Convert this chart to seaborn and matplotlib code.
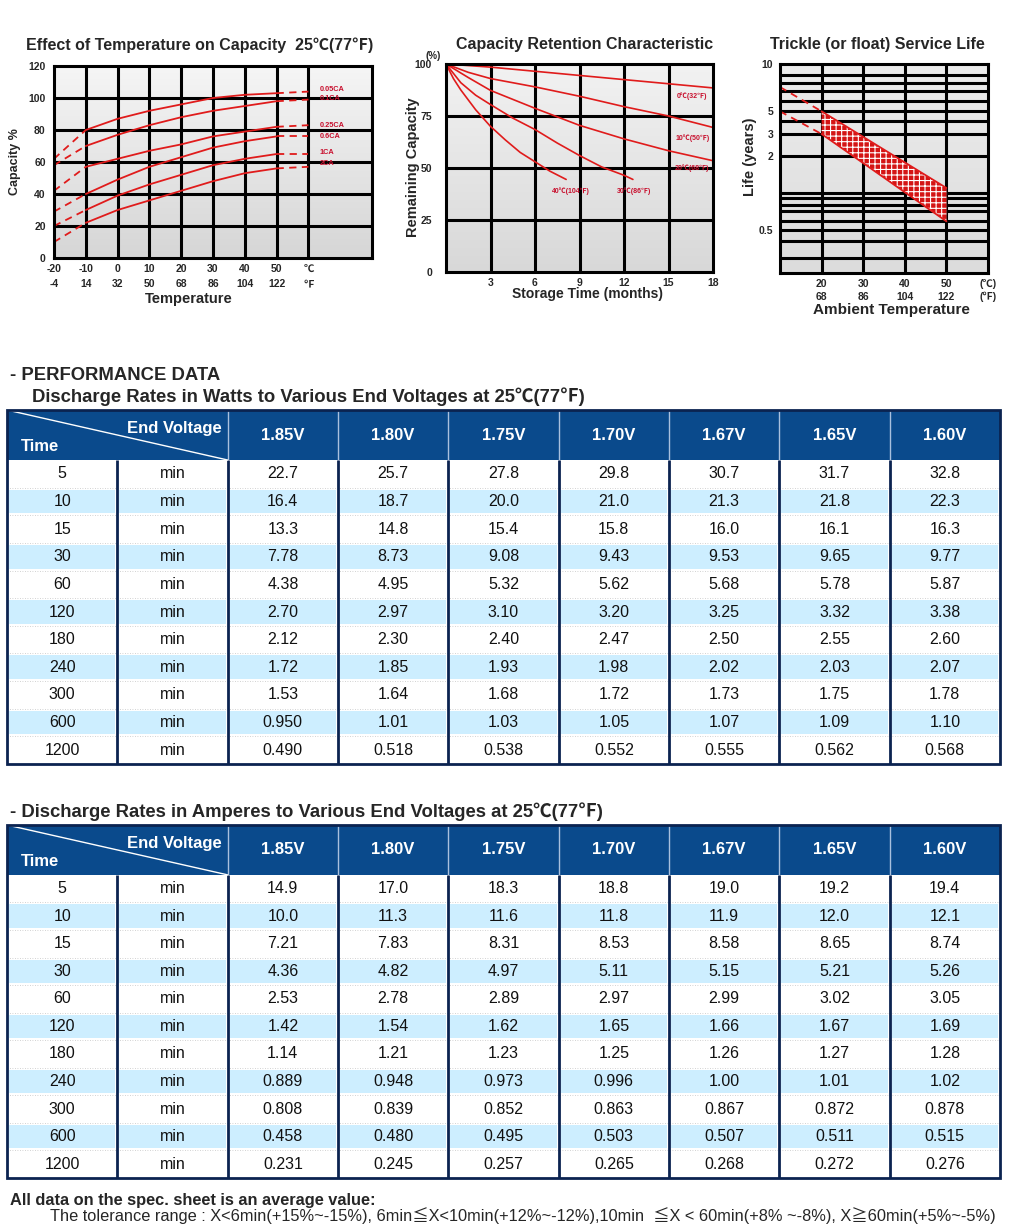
import numpy as np
import matplotlib
matplotlib.use("Agg")
import matplotlib.pyplot as plt
from matplotlib.colors import ListedColormap, LinearSegmentedColormap
from matplotlib.patches import Rectangle
from matplotlib.ticker import NullLocator
import seaborn as sns

sns.set_style("white")
FONTS = ['Liberation Sans', 'Noto Sans CJK SC', 'DejaVu Sans']
plt.rcParams['font.family'] = FONTS
plt.rcParams['hatch.linewidth'] = 0.8

RED = '#e01b1b'
LBL_RED = '#c8102e'
NAVY = '#0b2350'
HEAD_BLUE = '#0a4a8c'
STRIPE = '#cdeeff'

# ---- effect of temperature on capacity (%), solid part -10..50 C
temp_c = [-10, 0, 10, 20, 30, 40, 50]
cap_005 = [80, 87, 92, 96, 100, 102, 103]
cap_01 = [70, 77, 83, 88, 92, 95, 98]
cap_025 = [57, 62, 67, 71, 76, 79, 82]
cap_06 = [40, 49, 57, 63, 69, 73, 76]
cap_1 = [30, 39, 46, 52, 58, 62, 65]
cap_2 = [22, 30, 36, 42, 48, 53, 56]
cap_at_m20 = [62, 58, 42, 29, 20, 10]     # dashed ends at -20 C
cap_at_60 = [104, 99, 83, 76, 65, 57]     # dashed ends at 60 C
rate_labels = ['0.05CA', '0.1CA', '0.25CA', '0.6CA', '1CA', '2CA']
rate_label_y = [105.5, 99.5, 83, 76, 66, 59]
temp_ticks = [-20, -10, 0, 10, 20, 30, 40, 50, 60]
temp_f = ['-4', '14', '32', '50', '68', '86', '104', '122', '℉']
temp_cl = ['-20', '-10', '0', '10', '20', '30', '40', '50', '℃']

# ---- capacity retention (%) vs storage months
ret_months = {
    '0℃(32℉)': [0, 3, 6, 9, 12, 15, 18],
    '10℃(50℉)': [0, 1.5, 3, 6, 9, 12, 15, 18],
    '20℃(68℉)': [0, 1.5, 3, 6, 9, 12, 15, 18],
    '30℃(86℉)': [0, 1, 2, 3, 4.5, 6, 7.5, 9, 10.5, 12, 12.6],
    '40℃(104℉)': [0, 0.5, 1, 2, 3, 4, 5, 6, 7, 8.1],
}
ret_values = {
    '0℃(32℉)': [100, 98.5, 96.5, 94.5, 92.5, 90.5, 88.5],
    '10℃(50℉)': [100, 96, 93, 89, 84.5, 79.5, 75, 69.5],
    '20℃(68℉)': [100, 93.5, 87.3, 78.7, 70.5, 64, 58.3, 53.5],
    '30℃(86℉)': [100, 91, 85, 80.5, 74, 68.5, 62, 56, 50.5, 46.5, 44.5],
    '40℃(104℉)': [100, 93, 87.5, 78, 70, 63.5, 57.5, 53, 48.5, 44.5],
}
ret_label_x = [16.6, 16.6, 16.6, 12.65, 8.4]
ret_label_y = [84.5, 64.5, 50, 39, 39]

# ---- trickle service life (years)
life_temp = [20, 50]
life_upper = [5, 1.1]
life_lower = [3, 0.6]
ext_temp = [10, 20]
ext_upper = [7.5, 5]
ext_lower = [5, 3]
life_levels = [0.2, 0.3, 0.4, 0.5, 0.6, 0.7, 0.8, 0.9, 1, 2, 3, 4, 5, 6, 7, 8, 9, 10]
# printed grid of the sheet is a hand drawn log scale: position of each level
level_pos = np.array([730, 685, 635, 600, 575, 545, 525, 505, 490,
                      380, 313, 275, 245, 215, 185, 160, 135, 103], dtype=float)

# ---- performance tables
disch_min = [5, 10, 15, 30, 60, 120, 180, 240, 300, 600, 1200]
end_volts = ['1.85V', '1.80V', '1.75V', '1.70V', '1.67V', '1.65V', '1.60V']

watts_185 = [22.7, 16.4, 13.3, 7.78, 4.38, 2.70, 2.12, 1.72, 1.53, 0.950, 0.490]
watts_180 = [25.7, 18.7, 14.8, 8.73, 4.95, 2.97, 2.30, 1.85, 1.64, 1.01, 0.518]
watts_175 = [27.8, 20.0, 15.4, 9.08, 5.32, 3.10, 2.40, 1.93, 1.68, 1.03, 0.538]
watts_170 = [29.8, 21.0, 15.8, 9.43, 5.62, 3.20, 2.47, 1.98, 1.72, 1.05, 0.552]
watts_167 = [30.7, 21.3, 16.0, 9.53, 5.68, 3.25, 2.50, 2.02, 1.73, 1.07, 0.555]
watts_165 = [31.7, 21.8, 16.1, 9.65, 5.78, 3.32, 2.55, 2.03, 1.75, 1.09, 0.562]
watts_160 = [32.8, 22.3, 16.3, 9.77, 5.87, 3.38, 2.60, 2.07, 1.78, 1.10, 0.568]

amps_185 = [14.9, 10.0, 7.21, 4.36, 2.53, 1.42, 1.14, 0.889, 0.808, 0.458, 0.231]
amps_180 = [17.0, 11.3, 7.83, 4.82, 2.78, 1.54, 1.21, 0.948, 0.839, 0.480, 0.245]
amps_175 = [18.3, 11.6, 8.31, 4.97, 2.89, 1.62, 1.23, 0.973, 0.852, 0.495, 0.257]
amps_170 = [18.8, 11.8, 8.53, 5.11, 2.97, 1.65, 1.25, 0.996, 0.863, 0.503, 0.265]
amps_167 = [19.0, 11.9, 8.58, 5.15, 2.99, 1.66, 1.26, 1.00, 0.867, 0.507, 0.268]
amps_165 = [19.2, 12.0, 8.65, 5.21, 3.02, 1.67, 1.27, 1.01, 0.872, 0.511, 0.272]
amps_160 = [19.4, 12.1, 8.74, 5.26, 3.05, 1.69, 1.28, 1.02, 0.878, 0.515, 0.276]

W, H = 1024, 1228
fig = plt.figure(figsize=(W / 100, H / 100), dpi=100)


def px_axes(left, top, width, height):
    return fig.add_axes([left / W, 1 - (top + height) / H, width / W, height / H])


def fx(x):
    return x / W


def fy(y):
    return 1 - y / H


def shade(ax, top, bottom):
    grad = np.linspace(0, 1, 256)[:, None]
    cm = LinearSegmentedColormap.from_list('shade', [top, bottom])
    ax.imshow(grad, aspect='auto', cmap=cm, extent=(0, 1, 0, 1),
              transform=ax.transAxes, zorder=0)


def frame(ax):
    for s in ax.spines.values():
        s.set_visible(True)
        s.set_color('black')
        s.set_linewidth(2.2)
        s.set_zorder(6)
    ax.tick_params(length=0)


GRID = dict(color='black', lw=2.2, zorder=1)
TITLE = dict(ha='center', va='center', fontsize=11.5, fontweight='bold')

# =============== chart 1 : effect of temperature on capacity
ax1 = px_axes(54, 66, 318, 192)
shade(ax1, '#f5f5f5', '#d6d6d6')
ax1.set_xlim(-20, 80)
ax1.set_ylim(0, 120)
for x in temp_ticks[1:]:
    ax1.axvline(x, **GRID)
for y in range(20, 101, 20):
    ax1.axhline(y, **GRID)
curves = [cap_005, cap_01, cap_025, cap_06, cap_1, cap_2]
for vals, lo, hi, lab, ly in zip(curves, cap_at_m20, cap_at_60, rate_labels, rate_label_y):
    sns.lineplot(x=temp_c, y=vals, ax=ax1, color=RED, lw=1.3, zorder=3)
    sns.lineplot(x=[-20, -10], y=[lo, vals[0]], ax=ax1, color=RED, lw=1.3,
                 linestyle=(0, (4, 3)), zorder=3)
    sns.lineplot(x=[50, 60], y=[vals[-1], hi], ax=ax1, color=RED, lw=1.3,
                 linestyle=(0, (4, 3)), zorder=3)
    ax1.text(63.5, ly, lab, color=LBL_RED, fontsize=5.3, fontweight='bold',
             va='center', ha='left', zorder=4)
ax1.set_yticks(range(0, 121, 20))
ax1.set_yticklabels([str(v) for v in range(0, 121, 20)], fontsize=7.5, fontweight='bold')
ax1.set_xticks(temp_ticks)
ax1.set_xticklabels([f'{c}\n{f}' for c, f in zip(temp_cl, temp_f)], fontsize=7.5,
                    fontweight='bold', linespacing=1.7)
ax1.tick_params(axis='y', pad=6)
ax1.tick_params(axis='x', pad=4)
frame(ax1)
ax1.set_xlabel('')
ax1.set_ylabel('')
fig.text(fx(200), fy(45), 'Effect of Temperature on Capacity  25℃(77℉)', **TITLE)
fig.text(fx(15), fy(162), 'Capacity %', rotation=90, ha='center', va='center',
         fontsize=9, fontweight='bold')
fig.text(fx(189), fy(299), 'Temperature', ha='center', va='center', fontsize=10.5,
         fontweight='bold')

# =============== chart 2 : capacity retention
ax2 = px_axes(446, 64, 267, 208)
shade(ax2, '#f2f2f2', '#d8d8d8')
ax2.set_xlim(0, 18)
ax2.set_ylim(0, 100)
for x in range(3, 16, 3):
    ax2.axvline(x, **GRID)
for y in (25, 50, 75):
    ax2.axhline(y, **GRID)
for (name, xs), lx, ly in zip(ret_months.items(), ret_label_x, ret_label_y):
    sns.lineplot(x=xs, y=ret_values[name], ax=ax2, color=RED, lw=1.2, zorder=3)
    ax2.text(lx, ly, name, color=LBL_RED, fontsize=5.0, fontweight='bold',
             ha='center', va='center', zorder=4)
ax2.set_yticks([0, 25, 50, 75, 100])
ax2.set_yticklabels(['0', '25', '50', '75', '100'], fontsize=7.5, fontweight='bold')
ax2.set_xticks(range(3, 19, 3))
ax2.set_xticklabels([str(v) for v in range(3, 19, 3)], fontsize=7.5, fontweight='bold')
ax2.tick_params(axis='y', pad=10)
ax2.tick_params(axis='x', pad=4)
frame(ax2)
ax2.set_xlabel('')
ax2.set_ylabel('')
fig.text(fx(585), fy(45), 'Capacity Retention Characteristic', **TITLE)
fig.text(fx(433), fy(56), '(%)', ha='center', va='center', fontsize=7, fontweight='bold')
fig.text(fx(413), fy(167), 'Remaining Capacity', rotation=90, ha='center', va='center',
         fontsize=10.5, fontweight='bold')
fig.text(fx(588), fy(294), 'Storage Time (months)', ha='center', va='center',
         fontsize=10, fontweight='bold')

# =============== chart 3 : trickle service life
log_lv = np.log10(life_levels)


def life_fwd(v):
    return np.interp(np.log10(np.clip(v, 1e-6, None)), log_lv, -level_pos)


def life_inv(p):
    return 10 ** np.interp(p, -level_pos, log_lv)


ax3 = px_axes(780, 64, 208, 209)
ax3.set_yscale('function', functions=(life_fwd, life_inv))
shade(ax3, '#ececec', '#dcdcdc')
ax3.set_xlim(10, 60)
ax3.set_ylim(0.2, 10)
for x in (20, 30, 40, 50):
    ax3.axvline(x, **GRID)
for y in life_levels[1:-1]:
    ax3.axhline(y, **GRID)
ax3.fill_between(life_temp, life_lower, life_upper, facecolor='#d41414',
                 edgecolor='white', hatch='+++', lw=0, zorder=3)
for ys in (life_upper, life_lower):
    sns.lineplot(x=life_temp, y=ys, ax=ax3, color=RED, lw=1.3, zorder=4)
sns.lineplot(x=[50, 50], y=[life_lower[-1], life_upper[-1]], ax=ax3, color='#b00000',
             lw=1.5, zorder=4, sort=False)
for ys in (ext_upper, ext_lower):
    sns.lineplot(x=ext_temp, y=ys, ax=ax3, color=RED, lw=1.3, linestyle=(0, (4, 3)),
                 zorder=4)
ax3.yaxis.set_minor_locator(NullLocator())
ax3.set_yticks([0.5, 2, 3, 5, 10])
ax3.set_yticklabels(['0.5', '2', '3', '5', '10'], fontsize=7.5, fontweight='bold')
ax3.set_xticks([20, 30, 40, 50, 60])
ax3.set_xticklabels(['20\n68', '30\n86', '40\n104', '50\n122', '(℃)\n(℉)'], fontsize=7.5,
                    fontweight='bold', linespacing=1.4)
ax3.tick_params(axis='y', pad=5)
ax3.tick_params(axis='x', pad=4)
frame(ax3)
ax3.set_xlabel('')
ax3.set_ylabel('')
fig.text(fx(877), fy(45), 'Trickle (or float) Service Life', **TITLE)
fig.text(fx(750), fy(157), 'Life (years)', rotation=90, ha='center', va='center',
         fontsize=10.5, fontweight='bold')
fig.text(fx(891), fy(310), 'Ambient Temperature', ha='center', va='center',
         fontsize=11, fontweight='bold')


# =============== performance tables
def draw_table(ax, columns, hdr=1.81):
    n = len(disch_min)
    stripes = np.tile((np.arange(n) % 2)[:, None], (1, 9))
    annot = np.array([[str(t), 'min'] + [f'{c[i]:#.3g}' for c in columns]
                      for i, t in enumerate(disch_min)], dtype=object)
    sns.heatmap(stripes, ax=ax, cmap=ListedColormap(['white', STRIPE]), vmin=0, vmax=1,
                cbar=False, annot=annot, fmt='', linewidths=1.5, linecolor='white',
                annot_kws=dict(color='#111111', fontsize=11.5),
                xticklabels=False, yticklabels=False)
    ax.set_xlim(0, 9)
    ax.set_ylim(n, -hdr)
    ax.hlines(np.arange(1, n), 0, 9, colors='#c4c4c4', linestyles=(0, (1, 2)), lw=0.6,
              zorder=2)
    ax.add_patch(Rectangle((0, -hdr), 9, hdr, facecolor=HEAD_BLUE, edgecolor='none',
                           zorder=3))
    ax.vlines(np.arange(2, 9), -hdr, 0, colors='#a9c0de', lw=1.0, zorder=4)
    ax.vlines(np.arange(1, 9), 0, n, colors=NAVY, lw=2.0, zorder=4)
    ax.plot([0, 2], [-hdr, 0], color='white', lw=1.0, zorder=4)
    ax.add_patch(Rectangle((0, -hdr), 9, n + hdr, fill=False, edgecolor=NAVY, lw=2.0,
                           zorder=5, clip_on=False))
    for i, v in enumerate(end_volts):
        ax.text(2.5 + i, -hdr / 2, v, color='white', fontsize=12, fontweight='bold',
                ha='center', va='center', zorder=6)
    ax.text(1.95, -hdr + 0.66, 'End Voltage', color='white', fontsize=12,
            fontweight='bold', ha='right', va='center', zorder=6)
    ax.text(0.13, -0.5, 'Time', color='white', fontsize=12, fontweight='bold',
            ha='left', va='center', zorder=6)


axw = px_axes(7, 410, 993, 354)
draw_table(axw, [watts_185, watts_180, watts_175, watts_170, watts_167, watts_165, watts_160])
axa = px_axes(7, 825, 993, 353)
draw_table(axa, [amps_185, amps_180, amps_175, amps_170, amps_167, amps_165, amps_160])

SECTION = dict(ha='left', va='center', fontsize=13.3, fontweight='bold')
fig.text(fx(10), fy(375), '- PERFORMANCE DATA', **SECTION)
fig.text(fx(32), fy(397), 'Discharge Rates in Watts to Various End Voltages at 25℃(77℉)',
         **SECTION)
fig.text(fx(10), fy(812),
         '- Discharge Rates in Amperes to Various End Voltages at 25℃(77℉)', **SECTION)

fig.text(fx(10), fy(1200), 'All data on the spec. sheet is an average value:', ha='left',
         va='center', fontsize=11.8, fontweight='bold')
fig.text(fx(50), fy(1216),
         'The tolerance range : X<6min(+15%~-15%), 6min≦X<10min(+12%~-12%),10min  ≦X < 60min'
         '(+8% ~-8%), X≧60min(+5%~-5%)', ha='left', va='center', fontsize=11.8)

fig.savefig('out.png', dpi=100)
